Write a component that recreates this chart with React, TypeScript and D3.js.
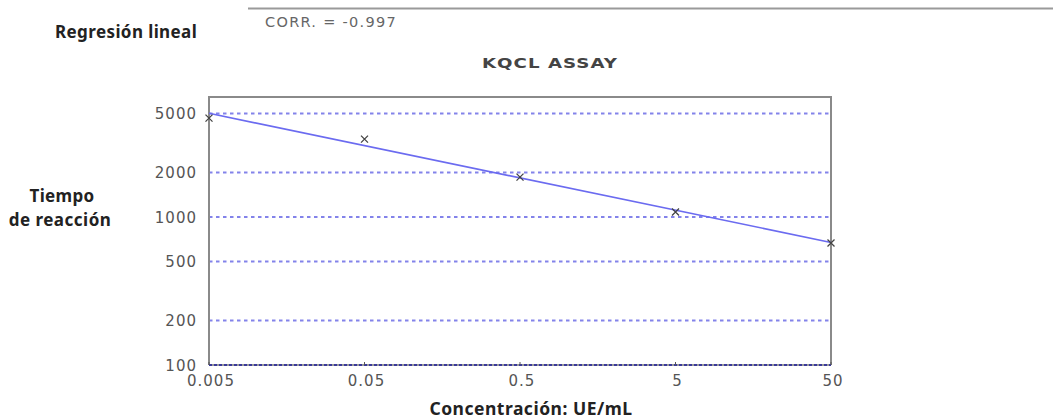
import React from 'react'
import * as d3 from 'd3'

// concentración (UE/mL) and tiempo de reacción
const concentrations = [0.005, 0.05, 0.5, 5, 50]
const reactionTimes = [4660, 3360, 1860, 1080, 667]

const xTicks = [0.005, 0.05, 0.5, 5, 50]
const xTickLabels = ['0.005', '0.05', '0.5', '5', '50']
const yTicks = [100, 200, 500, 1000, 2000, 5000]
const yTickLabels = ['100', '200', '500', '1000', '2000', '5000']
const xDomain = [0.005, 50]
const yDomain = [100, 6470]

const W = 1053
const H = 419
const plot = { left: 209, right: 831, top: 97, bottom: 365 }

// least squares on log-log values, the "regresión lineal"
function regression (xs: number[], ys: number[]) {
  const lx = xs.map(Math.log10)
  const ly = ys.map(Math.log10)
  const mx = d3.mean(lx) as number
  const my = d3.mean(ly) as number
  let sxy = 0
  let sxx = 0
  lx.forEach((v, i) => {
    sxy += (v - mx) * (ly[i] - my)
    sxx += (v - mx) * (v - mx)
  })
  const slope = sxy / sxx
  return (x: number) => Math.pow(10, my + slope * (Math.log10(x) - mx))
}

export default function App () {
  const x = d3.scaleLog().domain(xDomain).range([plot.left, plot.right])
  const y = d3.scaleLog().domain(yDomain).range([plot.bottom, plot.top])
  const fit = regression(concentrations, reactionTimes)
  const line = d3.line<number>()
    .x(d => x(d))
    .y(d => y(fit(d)))

  const tickFont = '"DejaVu Sans", Verdana, sans-serif'
  const labelFont = '"Noto Sans", "Open Sans", sans-serif'

  return (
    <svg width={W} height={H} style={{ position: 'absolute', left: 0, top: 0, background: '#fff' }}>
      {/* header */}
      <line x1={248} x2={W} y1={8.5} y2={8.5} stroke='#9a9a9a' strokeWidth={2} />
      <text x={55} y={38} fontFamily={labelFont} fontWeight='bold' fontSize={17} letterSpacing={0.4} fill='#222'>Regresión lineal</text>
      <text x={265} y={27} fontFamily={tickFont} fontSize={14.5} letterSpacing={1.3} fill='#666'>CORR. = -0.997</text>
      <g transform='translate(550,68) scale(1.3,1)'>
        <text x={0} y={0} textAnchor='middle' fontFamily={tickFont} fontWeight='bold' fontSize={14} letterSpacing={0.8} fill='#444'>KQCL ASSAY</text>
      </g>

      {/* grid */}
      {yTicks.filter(t => t > yDomain[0]).map(t => (
        <line key={'g' + t} x1={plot.left} x2={plot.right} y1={y(t)} y2={y(t)}
          stroke='#8383ea' strokeWidth={2} strokeDasharray='3.5 3.5' />
      ))}

      {/* frame */}
      <path d={`M${plot.left},${plot.bottom}V${plot.top}H${plot.right}V${plot.bottom}`}
        fill='none' stroke='#8a8a8a' strokeWidth={2} />
      <line x1={plot.left} x2={plot.right} y1={plot.bottom} y2={plot.bottom}
        stroke='#9a9a9a' strokeWidth={2} />
      <line x1={plot.left} x2={plot.right} y1={plot.bottom} y2={plot.bottom}
        stroke='#3a3a9a' strokeWidth={2} strokeDasharray='3 2' />
      {xTicks.map(t => (
        <line key={'xt' + t} x1={x(t)} x2={x(t)} y1={plot.bottom} y2={plot.bottom - 3}
          stroke='#555' strokeWidth={1} />
      ))}

      {/* regression line */}
      <path d={line(xDomain) || ''} fill='none' stroke='#6b6bf0' strokeWidth={1.6} />

      {/* data points */}
      {concentrations.map((c, i) => {
        const cx = x(c)
        const cy = y(reactionTimes[i])
        return (
          <path key={'p' + i} d={`M${cx - 3.5},${cy - 3.5}L${cx + 3.5},${cy + 3.5}M${cx + 3.5},${cy - 3.5}L${cx - 3.5},${cy + 3.5}`}
            stroke='#444' strokeWidth={1.3} />
        )
      })}

      {/* axis labels */}
      {yTicks.map((t, i) => (
        <text key={'yl' + t} x={197} y={y(t) + 5.5} textAnchor='end' fontFamily={tickFont}
          fontSize={15} letterSpacing={1} fill='#555'>{yTickLabels[i]}</text>
      ))}
      {xTicks.map((t, i) => (
        <text key={'xl' + t} x={x(t) + 2} y={386} textAnchor='middle' fontFamily={tickFont}
          fontSize={15} letterSpacing={1} fill='#555'>{xTickLabels[i]}</text>
      ))}

      <text x={62} y={202} textAnchor='middle' fontFamily={labelFont} fontWeight='bold' fontSize={17} letterSpacing={0.3} fill='#222'>Tiempo</text>
      <text x={60} y={226} textAnchor='middle' fontFamily={labelFont} fontWeight='bold' fontSize={17} letterSpacing={0.5} fill='#222'>de reacción</text>
      <text x={531} y={415} textAnchor='middle' fontFamily={labelFont} fontWeight='bold' fontSize={17.5} letterSpacing={0.5} fill='#222'>Concentración: UE/mL</text>
    </svg>
  )
}
